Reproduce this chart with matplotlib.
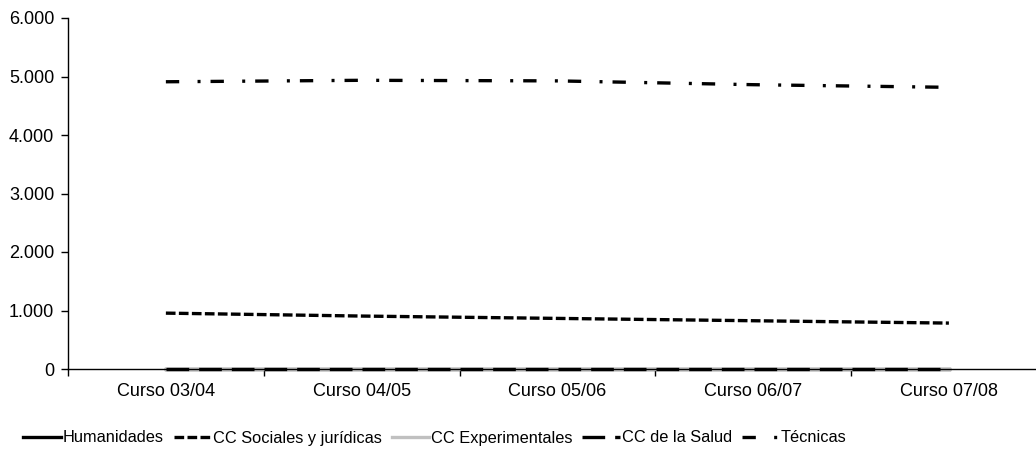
import matplotlib
matplotlib.use("Agg")
import matplotlib.pyplot as plt
from matplotlib.ticker import FuncFormatter

categories = ["Curso 03/04", "Curso 04/05", "Curso 05/06", "Curso 06/07", "Curso 07/08"]
humanidades = [0, 0, 0, 0, 0]
sociales = [955, 905, 865, 825, 785]
experimentales = [0, 0, 0, 0, 0]
salud = [0, 0, 0, 0, 0]
tecnicas = [4910, 4935, 4925, 4860, 4815]

plt.rcParams['font.family'] = ['Liberation Sans', 'DejaVu Sans']

W, H = 1036, 454
fig = plt.figure(figsize=(W / 100, H / 100), dpi=100)
ax = fig.add_axes([68 / W, 1 - 369 / H, 1 - 68 / W, (369 - 18) / H])

x = list(range(len(categories)))
lw = 2.4
ax.plot(x, humanidades, color='black', lw=lw, label='Humanidades', clip_on=False)
ax.plot(x, sociales, color='black', lw=lw, linestyle=(0, (2.9, 1.0)),
        label='CC Sociales y jurídicas', clip_on=False)
ax.plot(x, experimentales, color='#C0C0C0', lw=lw, label='CC Experimentales', clip_on=False)
ax.plot(x, salud, color='black', lw=lw, linestyle=(0, (6.8, 3.0)),
        label='CC de la Salud', clip_on=False)
ax.plot(x, tecnicas, color='black', lw=lw, linestyle=(0, (4.0, 5.5, 0.9, 3.0)),
        label='Técnicas', clip_on=False)

ax.set_ylim(0, 6000)
ax.set_yticks([0, 1000, 2000, 3000, 4000, 5000, 6000])
ax.yaxis.set_major_formatter(FuncFormatter(lambda v, p: f"{int(v):,}".replace(",", ".")))
ax.set_xlim(-0.5, 4.445)
ax.set_xticks([-0.5, 0.5, 1.5, 2.5, 3.5])
ax.set_xticklabels([])
ax.set_xticks(x, minor=True)
ax.set_xticklabels(categories, minor=True)
ax.tick_params(axis='x', which='minor', length=0, pad=10, labelsize=13)
ax.tick_params(axis='x', which='major', length=5, width=1, direction='out')
ax.tick_params(axis='y', length=5, width=1, direction='out', pad=5, labelsize=13)

for s in ['top', 'right']:
    ax.spines[s].set_visible(False)
for s in ['left', 'bottom']:
    ax.spines[s].set_linewidth(1)
    ax.spines[s].set_color('black')

fig.legend(loc='center', bbox_to_anchor=(435 / W, 1 - 438 / H), ncol=5, frameon=False,
           fontsize=11.8, handlelength=2.3, handletextpad=0.1, columnspacing=0.6)

fig.savefig("out.png", dpi=100)
